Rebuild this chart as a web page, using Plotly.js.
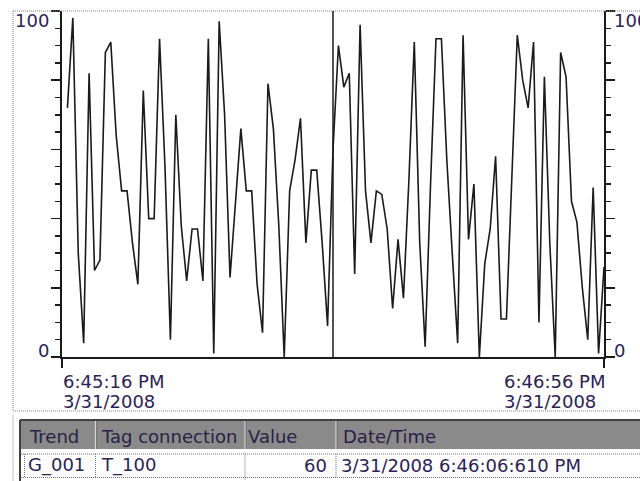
<!DOCTYPE html>
<html>
<head>
<meta charset="utf-8">
<script src="https://cdn.plot.ly/plotly-3.0.1.min.js"></script>
<style>
html,body{margin:0;padding:0;background:#fff;}
#chart{width:640px;height:481px;}
</style>
</head>
<body>
<div id="chart"></div>
<script>
// ---- data ----
const sampleStart = '2008-03-31 18:45:16.61';   // time of sample 0 (axis start)
const sampleStepMs = 1000;                       // 1 sample per second
const axisStart = '2008-03-31 18:45:16.61';
const axisEnd = '2008-03-31 18:46:56.61';
const rulerTime = '2008-03-31 18:46:06.61';
const values = [
  72, 98, 30, 4, 82, 25, 28, 88, 91, 64,
  48, 48, 33, 21, 77, 40, 40, 92, 55, 5,
  70, 38, 22, 37, 37, 22, 92, 1, 97, 70,
  23, 46, 66, 48, 48, 21, 7, 79, 66, 38,
  0, 48, 57, 69, 33, 54, 54, 33, 9, 60,
  90, 78, 82, 24, 96, 48, 33, 48, 47, 37,
  14, 34, 17, 51, 91, 33, 3, 50, 92, 92,
  57, 30, 4, 93, 34, 50, 0, 27, 37, 58,
  11, 11, 51, 93, 80, 72, 91, 10, 81, 33,
  0, 88, 81, 45, 39, 20, 5, 49, 1, 26
];
const yTickLabels = ['100', '0'];
const xTickLabelsStart = ['6:45:16 PM', '3/31/2008'];
const xTickLabelsEnd = ['6:46:56 PM', '3/31/2008'];
const tableHeaders = ['Trend', 'Tag connection', 'Value', 'Date/Time'];
const tableRow = ['G_001', 'T_100', '60', '3/31/2008 6:46:06:610 PM'];

// ---- build ----
function fmt(d){
  const p = n => String(n).padStart(2,'0');
  return d.getFullYear()+'-'+p(d.getMonth()+1)+'-'+p(d.getDate())+' '+p(d.getHours())+':'+p(d.getMinutes())+':'+p(d.getSeconds())+'.'+String(d.getMilliseconds()).padStart(3,'0');
}
const t0 = new Date(sampleStart.replace(' ','T'));
const times = values.map((v,i)=>fmt(new Date(t0.getTime() + (i+1)*sampleStepMs)));

const W = 640, H = 481;
const M = {l:62, r:36, t:11, b:124};
const PW = W - M.l - M.r, PH = H - M.t - M.b;
const px2x = px => (px - M.l)/PW;
const px2y = py => (M.t + PH - py)/PH;

const ink = '#1a1a1a';
const txt = '#2d2155';
const fontF = 'DejaVu Sans';

const yAxisBase = {
  range:[0,100], tick0:0, dtick:20, ticks:'outside', ticklen:9, tickwidth:1.5, tickcolor:ink,
  showline:true, linecolor:ink, linewidth:2, showgrid:false, zeroline:false, showticklabels:false,
  minor:{dtick:5, ticks:'outside', ticklen:5, tickwidth:1.5, tickcolor:ink, showgrid:false},
  fixedrange:true
};

const shapes = [];
const annotations = [];
function hline(x0,x1,y,color,width,dash){shapes.push({type:'line',xref:'paper',yref:'paper',x0:px2x(x0),x1:px2x(x1),y0:px2y(y),y1:px2y(y),line:{color:color,width:width,dash:dash||'solid'}});}
function vline(x,y0,y1,color,width,dash){shapes.push({type:'line',xref:'paper',yref:'paper',x0:px2x(x),x1:px2x(x),y0:px2y(y0),y1:px2y(y1),line:{color:color,width:width,dash:dash||'solid'}});}
function text(t,x,y,xanchor,opts){annotations.push(Object.assign({text:t,xref:'paper',yref:'paper',x:px2x(x),y:px2y(y),xanchor:xanchor,yanchor:'middle',showarrow:false,borderpad:0,font:{family:fontF,size:18,color:txt}},opts||{}));}

// outer dotted frame
hline(13,640,11,'#808080',1,'1px,1px');
hline(13,640,411,'#808080',1,'1px,1px');
vline(13,11,411,'#808080',1,'1px,1px');
vline(13,415,481,'#c4c4c4',1);

// ruler
shapes.push({type:'line',xref:'x',yref:'paper',x0:rulerTime,x1:rulerTime,y0:0,y1:1,line:{color:ink,width:1.5}});

// y tick labels
text(yTickLabels[0],50,20,'right');
text(yTickLabels[1],50,350,'right');
text(yTickLabels[0],613,20,'left');
text(yTickLabels[1],613,350,'left');
// x tick labels
text(xTickLabelsStart[0],61.5,381,'left');
text(xTickLabelsStart[1],61.5,401,'left');
text(xTickLabelsEnd[0],502.5,381,'left');
text(xTickLabelsEnd[1],502.5,401,'left');

// table header
shapes.push({type:'rect',xref:'paper',yref:'paper',x0:px2x(20),x1:px2x(641),y0:px2y(421),y1:px2y(449),fillcolor:'#8a8a8a',line:{width:0}});
hline(20,641,420,'#404040',2);
vline(20,420,481,'#404040',2);
[95.5,245,336].forEach(x=>{vline(x,421,449,'#d6d6d6',1.2);vline(x+1.2,421,449,'#6a6a6a',0.8);});
const headX = [28,100,247,342];
tableHeaders.forEach((h,i)=>text(h,headX[i],436.5,'left',{font:{family:fontF,size:18,color:'#2a1e48'}}));
// table row
hline(21,641,454,'#707070',1,'1px,1px');
hline(21,641,477.5,'#707070',1,'1px,1px');
vline(24.5,454,477.5,'#707070',1,'1px,1px');
vline(95.5,454,477.5,'#707070',1,'1px,1px');
vline(245,452,480,'#b0b0b0',1);
vline(336,454,477.5,'#707070',1,'1px,1px');
text(tableRow[0],27,465,'left');
text(tableRow[1],100,465,'left');
text(tableRow[2],327.5,465,'right');
text(tableRow[3],340,465,'left');

const data = [{
  type:'scatter', mode:'lines', x:times, y:values, xaxis:'x', yaxis:'y',
  line:{color:ink, width:1.6, shape:'linear'}, hoverinfo:'skip', showlegend:false
},{
  type:'scatter', mode:'lines', x:[axisStart,axisEnd], y:[null,null], xaxis:'x', yaxis:'y2',
  hoverinfo:'skip', showlegend:false
}];

const layout = {
  width:W, height:H, margin:M, paper_bgcolor:'#ffffff', plot_bgcolor:'#ffffff',
  showlegend:false,
  xaxis:{type:'date', range:[axisStart,axisEnd], showgrid:false, zeroline:false, showline:true,
    linecolor:ink, linewidth:2, ticks:'outside', ticklen:9, tickwidth:1.5, tickcolor:ink,
    tickmode:'array', tickvals:[axisStart,axisEnd], showticklabels:false, fixedrange:true},
  yaxis:Object.assign({}, yAxisBase, {side:'left'}),
  yaxis2:Object.assign({}, yAxisBase, {side:'right', overlaying:'y'}),
  shapes:shapes, annotations:annotations
};
Plotly.newPlot('chart', data, layout, {staticPlot:true, displayModeBar:false});
</script>
</body>
</html>
